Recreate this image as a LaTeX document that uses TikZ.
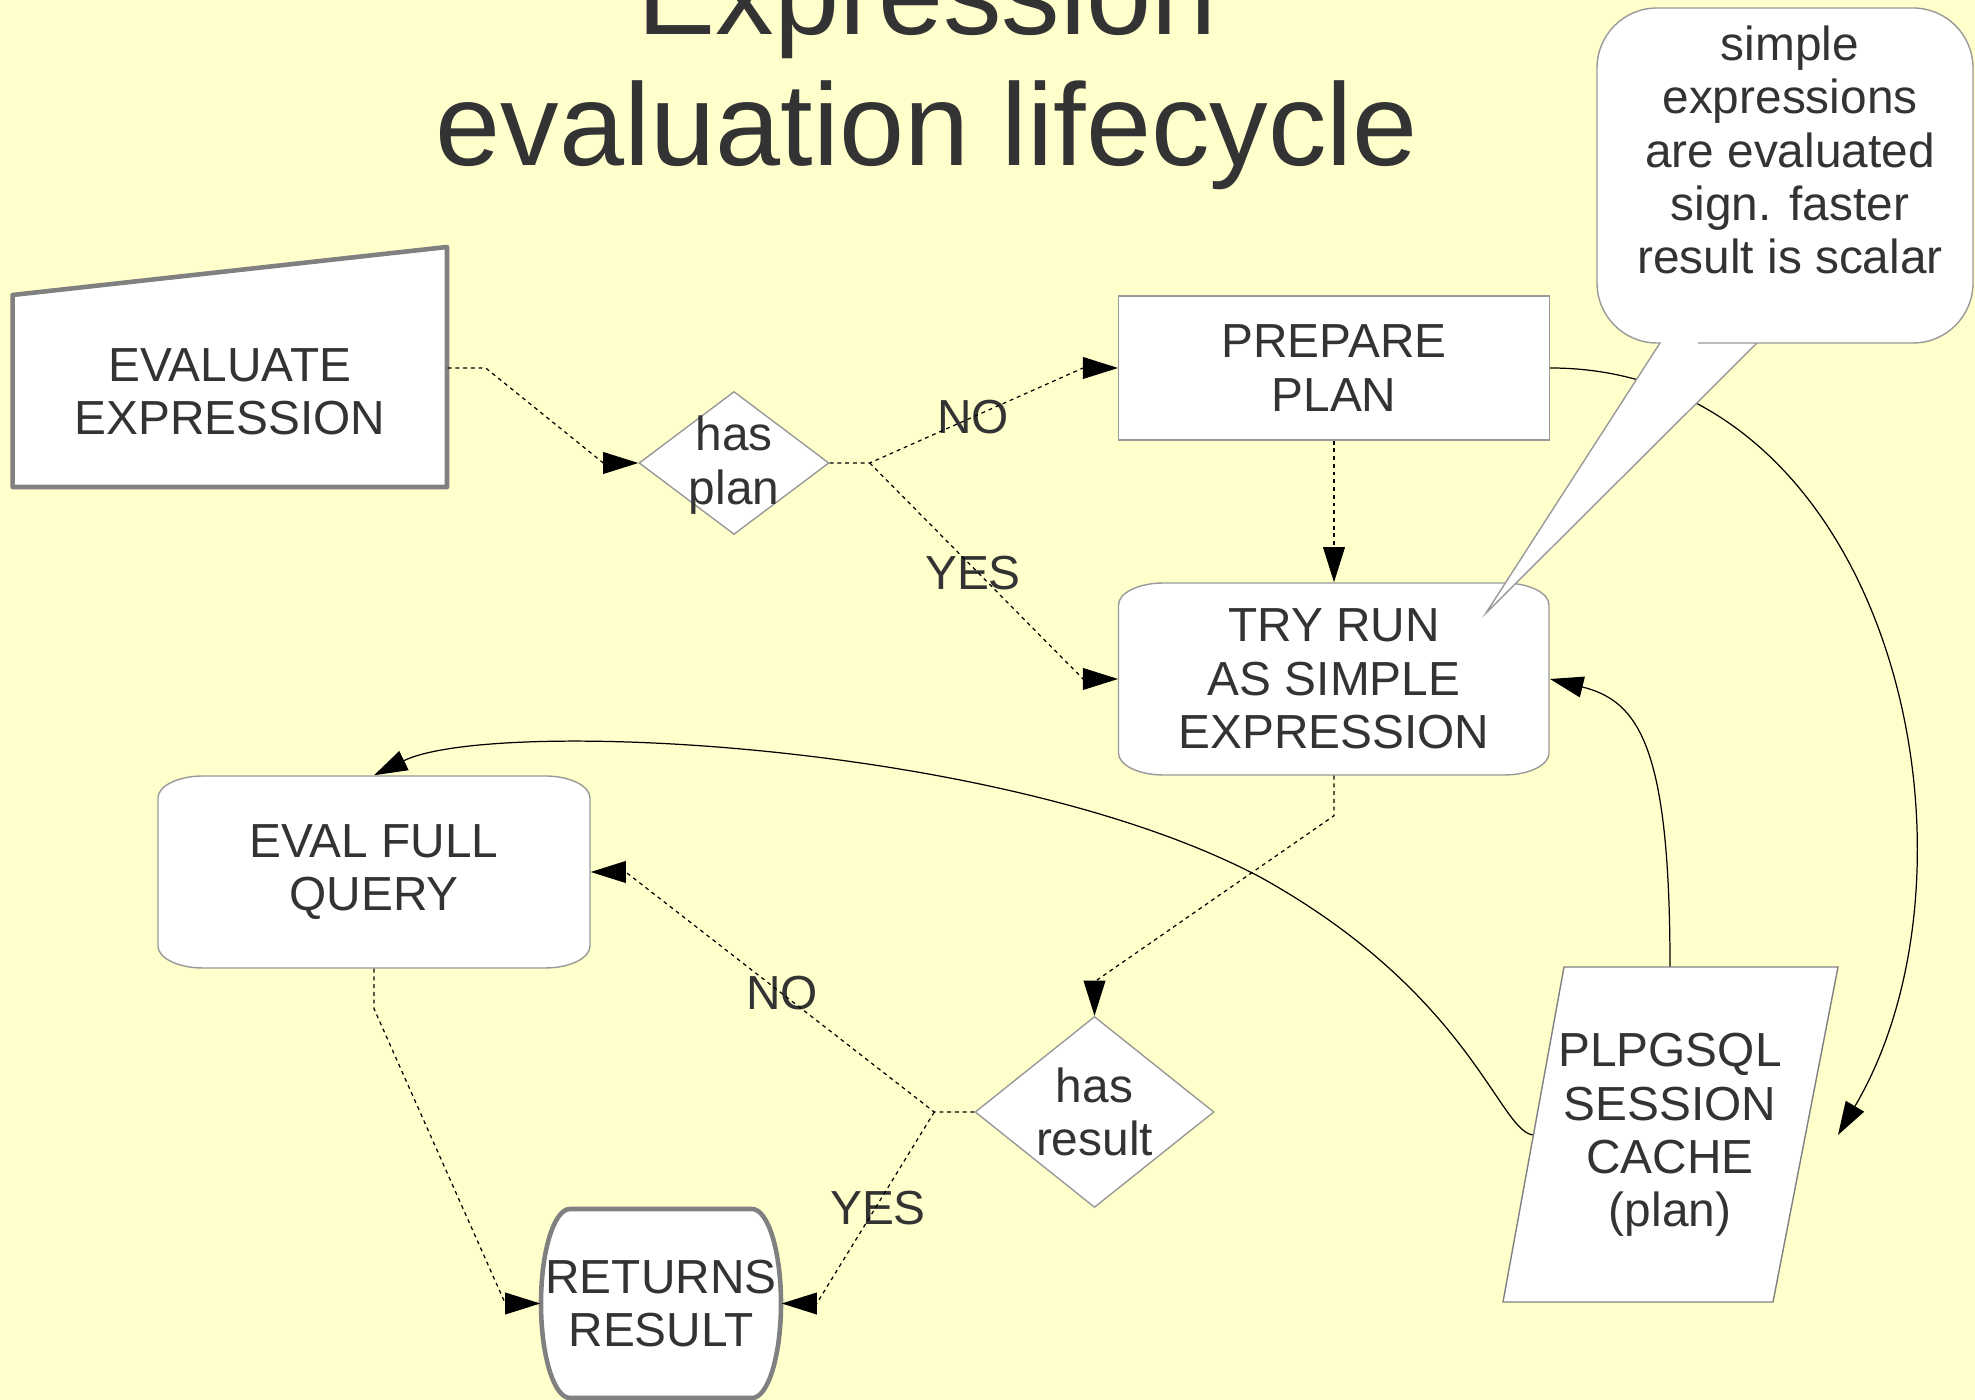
\documentclass[tikz,border=0pt]{standalone}
\usepackage{fontspec}
\setmainfont{Liberation Sans}
\usetikzlibrary{arrows.meta,shapes.geometric}
\definecolor{paperyellow}{HTML}{FFFFCC}
\definecolor{ink}{HTML}{333333}
\definecolor{edgegray}{HTML}{999999}
\definecolor{heavygray}{HTML}{808080}
\pgfdeclarelayer{paper}
\pgfdeclarelayer{links}
\pgfsetlayers{paper,links,main}

\begin{document}
\begin{tikzpicture}[x=0.1mm, y=-0.1mm,
  box/.style={fill=white, draw=edgegray, line width=0.4pt},
  heavybox/.style={fill=white, draw=heavygray, line width=1.3pt, line join=round},
  decision/.style={shape=diamond, fill=white, draw=edgegray, line width=0.4pt, inner sep=0pt, minimum width=1.9cm, minimum height=1.43cm},
  txt/.style={text=ink, align=center, inner sep=0pt, font=\fontsize{13.6}{15.2}\selectfont},
  title/.style={text=ink, align=center, inner sep=0pt, font=\fontsize{33.3}{37.3}\selectfont},
  flow/.style={-{Triangle[length=10pt,width=6.2pt]}, draw=black, line width=0.35pt, dash pattern=on 1.1pt off 1.1pt},
  link/.style={-{Triangle[length=9.5pt,width=6pt]}, draw=black, line width=0.35pt}]
\useasboundingbox (0,0) rectangle (1975,1400);
\begin{pgfonlayer}{paper}
\fill[paperyellow] (0,0) rectangle (1975,1400);
\end{pgfonlayer}

\node[title, anchor=south] (title) at (927,191) {Expression\\evaluation lifecycle};

% outlines
\filldraw[heavybox] (12.6,295) -- (447,247) -- (447,487) -- (12.6,487) -- cycle;
\filldraw[box] (1163.5,583) -- (1504,583) arc[start angle=270, end angle=360, x radius=45, y radius=22] -- (1549,753) arc[start angle=0, end angle=90, x radius=45, y radius=22] -- (1163.5,775) arc[start angle=90, end angle=180, x radius=45, y radius=22] -- (1118.5,605) arc[start angle=180, end angle=270, x radius=45, y radius=22] -- cycle;
\filldraw[box] (203,776) -- (545,776) arc[start angle=270, end angle=360, x radius=45, y radius=22] -- (590,946) arc[start angle=0, end angle=90, x radius=45, y radius=22] -- (203,968) arc[start angle=90, end angle=180, x radius=45, y radius=22] -- (158,798) arc[start angle=180, end angle=270, x radius=45, y radius=22] -- cycle;
\filldraw[heavybox] (570,1209) -- (752,1209) arc[start angle=270, end angle=450, x radius=29, y radius=94.5] -- (570,1398) arc[start angle=90, end angle=270, x radius=29, y radius=94.5] -- cycle;
\filldraw[box, draw=heavygray] (1564,967) -- (1838,967) -- (1773,1302) -- (1503,1302) -- cycle;
\filldraw[box] (1486,613) -- (1660,343) -- (1659,343) [rounded corners=6mm] -- (1597,343) -- (1597,8) -- (1973,8) -- (1973,343) -- (1758,343) [sharp corners] -- (1757,343) -- cycle;

% nodes
\node[txt, minimum width=4.34cm, minimum height=1.9cm] (evalexpr) at (230,392) {EVALUATE\\EXPRESSION};
\node[decision] (hasplan) at (734,463) {};
\node[txt] (hasplantext) at (734,465) {has\\plan};
\node[box, txt, minimum width=4.305cm, minimum height=1.44cm] (prepare) at (1334,368) {PREPARE\\PLAN};
\node[txt, minimum width=4.305cm, minimum height=1.92cm] (tryrun) at (1334,679) {TRY RUN\\AS SIMPLE\\EXPRESSION};
\node[txt, minimum width=4.32cm, minimum height=1.92cm] (evalfull) at (374,872) {EVAL FULL\\QUERY};
\node[decision, minimum width=2.39cm, minimum height=1.91cm] (hasresult) at (1094.5,1112) {};
\node[txt] (hasresulttext) at (1094.5,1112) {has\\result};
\node[txt, minimum width=2.4cm, minimum height=1.89cm] (returns) at (661,1303.5) {RETURNS\\RESULT};
\node[txt, minimum width=2.7cm, minimum height=3.35cm] (cache) at (1670,1135) {PLPGSQL\\SESSION\\CACHE\\(plan)};
\coordinate (cacheglue) at (1838,1135);
\node[txt] (note) at (1790,150) {simple\\expressions\\are evaluated\\sign. faster\\result is scalar};

\node[txt] (planno) at (973,417) {NO};
\node[txt] (planyes) at (973,573) {YES};
\node[txt] (resultno) at (782,993) {NO};
\node[txt] (resultyes) at (878,1208) {YES};

% dotted flow
\draw[flow] ([yshift=2.4mm]evalexpr.east) -- ++(38,0) -- ([xshift=-3.5mm]hasplan.west) -- (hasplan.west);
\draw[flow] (hasplan.east) -- ++(40,0) coordinate (planfork) -- ([xshift=-3.5mm]prepare.west) -- (prepare.west);
\draw[flow] (planfork) -- ([xshift=-3.5mm]tryrun.west) -- (tryrun.west);
\draw[flow] (prepare.south) -- (tryrun.north);
\draw[flow] (tryrun.south) -- ++(0,40) -- ([yshift=3.4mm]hasresult.north) -- (hasresult.north);
\draw[flow] (hasresult.west) -- ++(-40,0) coordinate (resultfork) -- ([xshift=3.5mm]evalfull.east) -- (evalfull.east);
\draw[flow] (resultfork) -- ([xshift=3.5mm]returns.east) -- (returns.east);
\draw[flow] (evalfull.south) -- ++(0,40) -- ([xshift=-3.5mm]returns.west) -- (returns.west);

% plan cache
\begin{pgfonlayer}{links}
\draw[link] (prepare.east) .. controls (1890,368) and (2000,860) .. (cacheglue);
\draw[link] (cache.north) .. controls (1670,747) and (1639,701) .. (tryrun.east);
\draw[link] (cache.west) .. controls (1500,1135) and (1473,995) .. (1260,877) .. controls (1000,740) and (491,718) .. (evalfull.north);
\end{pgfonlayer}
\end{tikzpicture}
\end{document}
